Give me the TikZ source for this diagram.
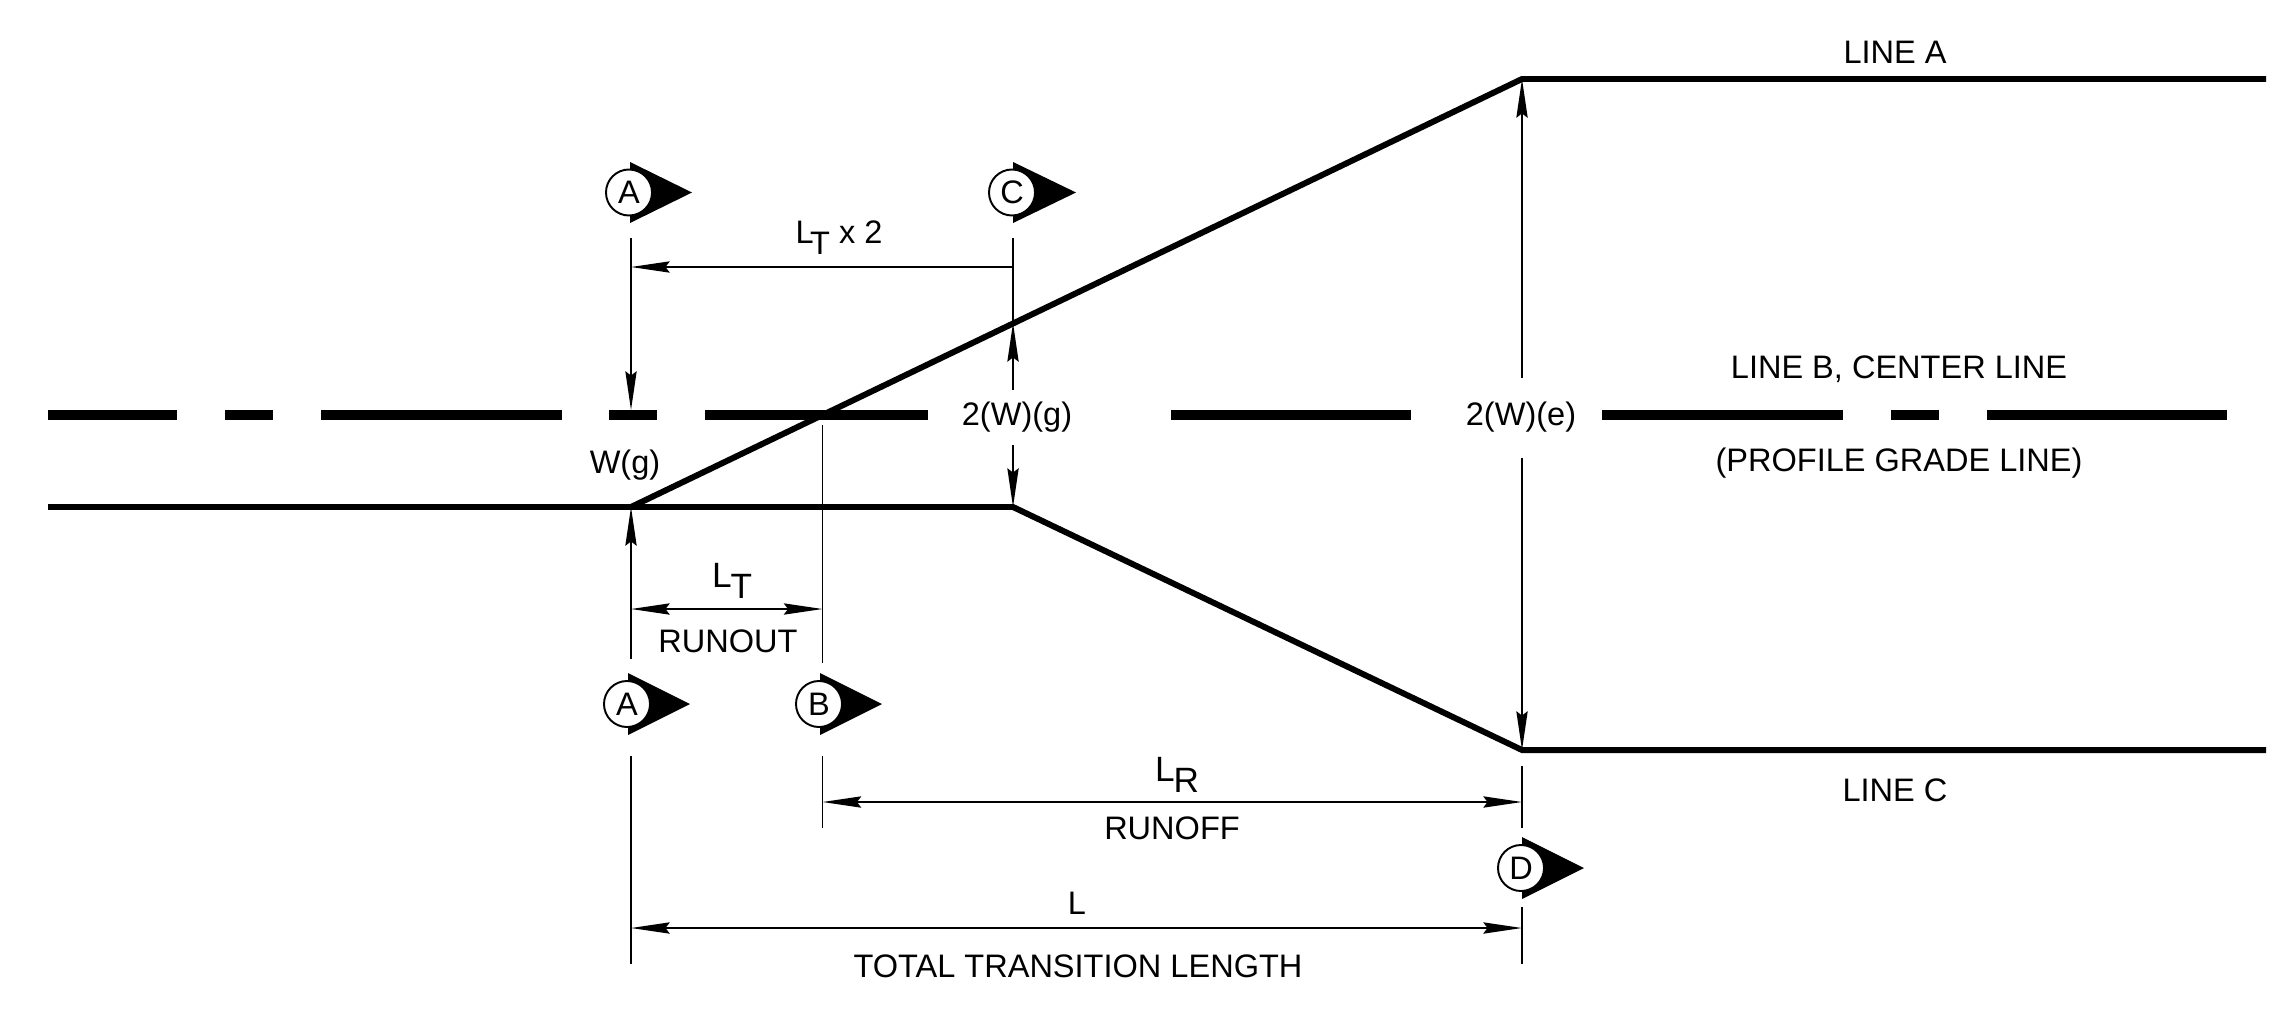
\documentclass[tikz,border=0pt]{standalone}
\usepackage{fontspec}
\setmainfont{Liberation Sans}
\usetikzlibrary{arrows.meta}

\newcommand{\lowT}[2][-0.3pt]{L\kern#1\raisebox{-3.3pt}{#2}}

\begin{document}
\begin{tikzpicture}[x=0.01cm, y=-0.01cm, >={Stealth[length=11pt, width=3.2pt, inset=1.2pt]},
	every node/.style={font=\fontsize{9.25}{11}\selectfont, inner sep=0pt},
	lbl/.style={anchor=base},
	biglbl/.style={anchor=base, font=\fontsize{10}{12}\selectfont},
	road/.style={line width=1.7pt},
	cline/.style={line width=2.85pt},
	dimline/.style={line width=0.55pt},
	secmark/.style={draw, circle, fill=white, line width=0.55pt, minimum size=0.46cm}]
	
	\useasboundingbox (0,0) rectangle (2282,1009);
	
	% Points on the road edges
	\coordinate (startB) at (48,507);
	\coordinate (runout) at (631,507);
	\coordinate (kink) at (1013,507);
	\coordinate (topA) at (1522,79);
	\coordinate (endA) at (2266,79);
	\coordinate (botC) at (1522,750);
	\coordinate (endC) at (2266,750);
	\coordinate (crossC) at (1013,323);
	\coordinate (onCL) at (631,410);
	
	% Road edges
	\draw[road] (startB) -- (kink) -- (botC) -- (endC);
	\draw[road] (runout) -- (topA) -- (endA);
	
	% Center line
	\draw[cline] (48,415) -- (177,415);
	\draw[cline] (225,415) -- (273,415);
	\draw[cline] (321,415) -- (562,415);
	\draw[cline] (609,415) -- (657,415);
	\draw[cline] (705,415) -- (928,415);
	\draw[cline] (1171,415) -- (1411,415);
	\draw[cline] (1602,415) -- (1843,415);
	\draw[cline] (1891,415) -- (1939,415);
	\draw[cline] (1987,415) -- (2227,415);
	
	% Section markers
	\fill (630,162) -- (692,192.5) -- (630,223) -- cycle;
	\node[secmark] (markAtop) at (629,192.5) {A};
	\fill (1013,162) -- (1076,192.5) -- (1013,223) -- cycle;
	\node[secmark] (markC) at (1012,192.5) {C};
	\fill (628,673) -- (690,704) -- (628,735) -- cycle;
	\node[secmark] (markAbot) at (627,704) {A};
	\fill (820,673) -- (882,704) -- (820,735) -- cycle;
	\node[secmark] (markB) at (819,704) {B};
	\fill (1522,837) -- (1584,868) -- (1522,899) -- cycle;
	\node[secmark] (markD) at (1521,868) {D};
	
	% Free ends of the extension lines
	\coordinate (extAtop) at (631,238);
	\coordinate (extCtop) at (1013,238);
	\coordinate (extAlow) at (631,659);
	\coordinate (extAnext) at (631,756);
	\coordinate (extAend) at (631,964);
	\coordinate (extBtop) at (822.5,425);
	\coordinate (extBlow) at (822.5,663);
	\coordinate (extBnext) at (822.5,756);
	\coordinate (extBend) at (822.5,828);
	\coordinate (extDtop) at (1522,766);
	\coordinate (extDlow) at (1522,828);
	\coordinate (extDnext) at (1522,907);
	\coordinate (extDend) at (1522,964);
	
	% Extension lines
	\draw[dimline, ->] (extAtop) -- (onCL);
	\draw[dimline] (extCtop) -- (crossC);
	\draw[dimline] (extBtop) -- (extBlow);
	\draw[dimline] (extAnext) -- (extAend);
	\draw[dimline] (extBnext) -- (extBend);
	\draw[dimline] (extDtop) -- (extDlow);
	\draw[dimline] (extDnext) -- (extDend);
	\draw[dimline, ->] (extAlow) -- (runout);
	
	% Height labels that split their arrows
	\node[lbl] (wg) at (625,473) {W(g)};
	\node[lbl] (twoWg) at (1017,425) {2(W)(g)};
	\node[lbl] (twoWe) at (1521,425) {2(W)(e)};
	\coordinate (wgUp) at (1013,390);
	\coordinate (wgDown) at (1013,445);
	\coordinate (weUp) at (1522,378);
	\coordinate (weDown) at (1522,458);
	\draw[dimline, ->] (wgUp) -- (crossC);
	\draw[dimline, ->] (wgDown) -- (kink);
	\draw[dimline, ->] (weUp) -- (topA);
	\draw[dimline, ->] (weDown) -- (botC);
	
	% Length dimensions
	\coordinate (ltTwoC) at (1013,267);
	\coordinate (ltTwoA) at (631,267);
	\coordinate (ltA) at (631,609);
	\coordinate (ltB) at (822.5,609);
	\coordinate (lrB) at (822.5,802);
	\coordinate (lrD) at (1522,802);
	\coordinate (lA) at (631,928);
	\coordinate (lD) at (1522,928);
	\draw[dimline, ->] (ltTwoC) -- (ltTwoA);
	\draw[dimline, <->] (ltA) -- (ltB);
	\draw[dimline, <->] (lrB) -- (lrD);
	\draw[dimline, <->] (lA) -- (lD);
	
	% Labels
	\node[lbl] (ltTwoLabel) at (839,243) {\lowT[-1pt]{T} x 2};
	\node[biglbl] (ltLabel) at (732,587) {\lowT{T}};
	\node[lbl] (runoutLabel) at (728,652) {RUNOUT};
	\node[biglbl] (lrLabel) at (1177,781) {\lowT{R}};
	\node[lbl] (runoffLabel) at (1172,839) {RUNOFF};
	\node[lbl] (lLabel) at (1077,914) {L};
	\node[lbl] (totalLabel) at (1078,977) {TOTAL TRANSITION LENGTH};
	\node[lbl] (lineA) at (1895,63) {LINE A};
	\node[lbl] (lineB) at (1899,378) {LINE B, CENTER LINE};
	\node[lbl] (profile) at (1899,471) {(PROFILE GRADE LINE)};
	\node[lbl] (lineC) at (1895,801) {LINE C};
	
\end{tikzpicture}
\end{document}
